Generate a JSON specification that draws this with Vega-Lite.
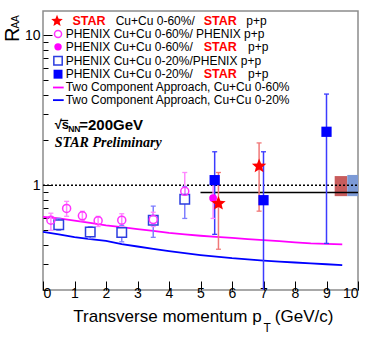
{
 "$schema": "https://vega.github.io/schema/vega-lite/v6.json",
 "width": 315, "height": 279,
 "autosize": {"type": "none"},
 "padding": {"left": 43, "top": 11, "right": 10, "bottom": 47},
 "config": {
  "view": {"stroke": "#8c8c8c", "strokeWidth": 1.5},
  "axis": {"grid": false, "domain": false, "labelFont": "Liberation Sans", "labelFontSize": 14, "labelColor": "black", "tickColor": "black", "tickWidth": 1, "labelOverlap": false},
  "text": {"font": "Liberation Sans"}
 },
 "datasets": {
  "pts": [
   {"series": "PHX0020", "pT": 0.5, "raa": 0.545, "lo": 0.50, "hi": 0.60},
   {"series": "PHX0020", "pT": 1.5, "raa": 0.487, "lo": 0.441, "hi": 0.528},
   {"series": "PHX0020", "pT": 2.5, "raa": 0.484, "lo": 0.419, "hi": 0.54},
   {"series": "PHX0020", "pT": 3.5, "raa": 0.584, "lo": 0.449, "hi": 0.725},
   {"series": "PHX0020", "pT": 4.5, "raa": 0.806, "lo": 0.60, "hi": 0.98},
   {"series": "PHX0060", "pT": 0.25, "raa": 0.584, "lo": 0.50, "hi": 0.65},
   {"series": "PHX0060", "pT": 0.75, "raa": 0.70, "lo": 0.62, "hi": 0.78},
   {"series": "PHX0060", "pT": 1.25, "raa": 0.625, "lo": 0.58, "hi": 0.67},
   {"series": "PHX0060", "pT": 1.75, "raa": 0.58, "lo": 0.53, "hi": 0.62},
   {"series": "PHX0060", "pT": 2.5, "raa": 0.584, "lo": 0.53, "hi": 0.645},
   {"series": "PHX0060", "pT": 3.5, "raa": 0.59, "lo": 0.53, "hi": 0.66},
   {"series": "PHX0060", "pT": 4.5, "raa": 0.91, "lo": 0.78, "hi": 1.215},
   {"series": "PHX0060s", "pT": 5.4, "raa": 0.82, "lo": 0.6, "hi": 1.1},
   {"series": "PHX0020s", "pT": 5.45, "raa": 1.08, "lo": 0.47, "hi": 1.67},
   {"series": "PHX0020s", "pT": 7.0, "raa": 0.794, "lo": 0.1, "hi": 1.67},
   {"series": "PHX0020s", "pT": 9.0, "raa": 2.27, "lo": 0.409, "hi": 4.05},
   {"series": "STAR0060", "pT": 5.57, "raa": 0.755, "lo": 0.374, "hi": 1.215},
   {"series": "STAR0060", "pT": 6.86, "raa": 1.34, "lo": 0.671, "hi": 1.913}
  ],
  "theory": [
   {"curve": "c0060", "pT": 0, "raa": 0.615}, {"curve": "c0060", "pT": 0.5, "raa": 0.6}, {"curve": "c0060", "pT": 1, "raa": 0.58}, {"curve": "c0060", "pT": 1.5, "raa": 0.56}, {"curve": "c0060", "pT": 2, "raa": 0.54}, {"curve": "c0060", "pT": 2.5, "raa": 0.525}, {"curve": "c0060", "pT": 3, "raa": 0.51}, {"curve": "c0060", "pT": 3.5, "raa": 0.495}, {"curve": "c0060", "pT": 4, "raa": 0.48}, {"curve": "c0060", "pT": 4.5, "raa": 0.47}, {"curve": "c0060", "pT": 5, "raa": 0.46}, {"curve": "c0060", "pT": 5.5, "raa": 0.452}, {"curve": "c0060", "pT": 6, "raa": 0.445}, {"curve": "c0060", "pT": 6.5, "raa": 0.437}, {"curve": "c0060", "pT": 7, "raa": 0.43}, {"curve": "c0060", "pT": 7.5, "raa": 0.423}, {"curve": "c0060", "pT": 8, "raa": 0.416}, {"curve": "c0060", "pT": 8.5, "raa": 0.409}, {"curve": "c0060", "pT": 9, "raa": 0.406}, {"curve": "c0060", "pT": 9.5, "raa": 0.403},
   {"curve": "c0020", "pT": 0, "raa": 0.488}, {"curve": "c0020", "pT": 0.5, "raa": 0.47}, {"curve": "c0020", "pT": 1, "raa": 0.45}, {"curve": "c0020", "pT": 1.5, "raa": 0.437}, {"curve": "c0020", "pT": 2, "raa": 0.425}, {"curve": "c0020", "pT": 2.5, "raa": 0.405}, {"curve": "c0020", "pT": 3, "raa": 0.39}, {"curve": "c0020", "pT": 3.5, "raa": 0.376}, {"curve": "c0020", "pT": 4, "raa": 0.363}, {"curve": "c0020", "pT": 4.5, "raa": 0.352}, {"curve": "c0020", "pT": 5, "raa": 0.342}, {"curve": "c0020", "pT": 5.5, "raa": 0.334}, {"curve": "c0020", "pT": 6, "raa": 0.326}, {"curve": "c0020", "pT": 6.5, "raa": 0.32}, {"curve": "c0020", "pT": 7, "raa": 0.314}, {"curve": "c0020", "pT": 7.5, "raa": 0.309}, {"curve": "c0020", "pT": 8, "raa": 0.305}, {"curve": "c0020", "pT": 8.5, "raa": 0.301}, {"curve": "c0020", "pT": 9, "raa": 0.297}, {"curve": "c0020", "pT": 9.5, "raa": 0.293}
  ],
  "norm": [
   {"series": "STARnorm", "x1": 9.26, "x2": 9.66, "lo": 0.845, "hi": 1.15},
   {"series": "PHXnorm", "x1": 9.66, "x2": 10.0, "lo": 0.845, "hi": 1.17}
  ]
 },
 "layer": [
  {
   "data": {"name": "norm"},
   "mark": {"type": "rect", "opacity": 1},
   "encoding": {
    "x": {"field": "x1", "type": "quantitative", "title": null,
          "scale": {"domain": [0, 10], "nice": false, "zero": false},
          "axis": {"values": [0, 1, 2, 3, 4, 5, 6, 7, 8, 9, 10], "tickCount": 11, "labelOverlap": false, "tickSize": -9, "labelPadding": 5, "title": null}},
    "x2": {"field": "x2"},
    "y": {"field": "lo", "type": "quantitative", "title": null,
          "scale": {"type": "log", "domain": [0.2, 14.5], "nice": false},
          "axis": {"values": [0.2, 0.3, 0.4, 0.5, 0.6, 0.7, 0.8, 0.9, 1, 2, 3, 4, 5, 6, 7, 8, 9, 10],
                   "labelExpr": "datum.value == 1 ? '1' : (datum.value == 10 ? '10' : '')", "labelOverlap": false,
                   "tickSize": {"condition": {"test": "datum.value == 1 || datum.value == 10", "value": -9}, "value": -5},
                   "labelPadding": 12, "title": null}},
    "y2": {"field": "hi"},
    "color": {"field": "series", "type": "nominal", "legend": null,
              "scale": {"domain": ["STAR0060", "PHX0060", "PHX0060s", "PHX0020", "PHX0020s", "STARnorm", "PHXnorm"],
                        "range": ["#f07878", "#ff88ff", "#ff88ff", "#7f7fff", "#3b3bff", "#c85c5c", "#7c9ad6"]}}
   }
  },
  {
   "data": {"values": [{}]},
   "mark": {"type": "rule", "strokeDash": [2, 2], "strokeWidth": 1.5, "color": "black"},
   "encoding": {"x": {"datum": 0, "type": "quantitative"}, "x2": {"datum": 10}, "y": {"datum": 1, "type": "quantitative"}}
  },
  {
   "data": {"values": [{}]},
   "mark": {"type": "rule", "strokeWidth": 1.5, "color": "black"},
   "encoding": {"x": {"datum": 5, "type": "quantitative"}, "x2": {"datum": 10}, "y": {"datum": 0.894, "type": "quantitative"}}
  },
  {
   "data": {"name": "theory"},
   "transform": [{"filter": "datum.curve == 'c0060'"}],
   "mark": {"type": "line", "color": "#ff00ff", "strokeWidth": 1.8},
   "encoding": {"x": {"field": "pT", "type": "quantitative", "title": null}, "y": {"field": "raa", "type": "quantitative", "title": null}}
  },
  {
   "data": {"name": "theory"},
   "transform": [{"filter": "datum.curve == 'c0020'"}],
   "mark": {"type": "line", "color": "#0000ff", "strokeWidth": 1.8},
   "encoding": {"x": {"field": "pT", "type": "quantitative", "title": null}, "y": {"field": "raa", "type": "quantitative", "title": null}}
  },
  {
   "data": {"name": "pts"},
   "mark": {"type": "rule", "strokeWidth": 1.5, "clip": true},
   "encoding": {"x": {"field": "pT", "type": "quantitative", "title": null}, "y": {"field": "lo", "type": "quantitative", "title": null}, "y2": {"field": "hi"},
                "color": {"field": "series", "type": "nominal", "legend": null}}
  },
  {
   "data": {"name": "pts"},
   "mark": {"type": "tick", "orient": "horizontal", "size": 5, "thickness": 1.3, "clip": true, "opacity": 1},
   "encoding": {"x": {"field": "pT", "type": "quantitative", "title": null}, "y": {"field": "lo", "type": "quantitative", "title": null},
                "color": {"field": "series", "type": "nominal", "legend": null}}
  },
  {
   "data": {"name": "pts"},
   "mark": {"type": "tick", "orient": "horizontal", "size": 5, "thickness": 1.3, "clip": true, "opacity": 1},
   "encoding": {"x": {"field": "pT", "type": "quantitative", "title": null}, "y": {"field": "hi", "type": "quantitative", "title": null},
                "color": {"field": "series", "type": "nominal", "legend": null}}
  },
  {
   "data": {"name": "pts"},
   "transform": [{"filter": "datum.series == 'PHX0020'"}],
   "mark": {"type": "square", "fill": "white", "stroke": "#2b3de0", "strokeWidth": 1.5, "size": 90, "opacity": 1},
   "encoding": {"x": {"field": "pT", "type": "quantitative", "title": null}, "y": {"field": "raa", "type": "quantitative", "title": null}}
  },
  {
   "data": {"name": "pts"},
   "transform": [{"filter": "datum.series == 'PHX0060'"}],
   "mark": {"type": "point", "shape": "circle", "filled": false, "color": "#ff33ff", "strokeWidth": 1.5, "size": 64, "opacity": 1},
   "encoding": {"x": {"field": "pT", "type": "quantitative", "title": null}, "y": {"field": "raa", "type": "quantitative", "title": null}}
  },
  {
   "data": {"name": "pts"},
   "transform": [{"filter": "datum.series == 'PHX0060s'"}],
   "mark": {"type": "circle", "color": "#ff00ff", "size": 60, "opacity": 1},
   "encoding": {"x": {"field": "pT", "type": "quantitative", "title": null}, "y": {"field": "raa", "type": "quantitative", "title": null}}
  },
  {
   "data": {"name": "pts"},
   "transform": [{"filter": "datum.series == 'PHX0020s'"}],
   "mark": {"type": "square", "color": "#0000ff", "size": 105, "opacity": 1},
   "encoding": {"x": {"field": "pT", "type": "quantitative", "title": null}, "y": {"field": "raa", "type": "quantitative", "title": null}}
  },
  {
   "data": {"name": "pts"},
   "transform": [{"filter": "datum.series == 'STAR0060'"}],
   "mark": {"type": "point", "shape": "M0,-1L0.26,-0.36L0.951,-0.309L0.42,0.14L0.588,0.809L0,0.45L-0.588,0.809L-0.42,0.14L-0.951,-0.309L-0.26,-0.36Z", "filled": true, "color": "#ff0000", "size": 230, "opacity": 1},
   "encoding": {"x": {"field": "pT", "type": "quantitative", "title": null}, "y": {"field": "raa", "type": "quantitative", "title": null}}
  },
  {
   "data": {"values": [{}]},
   "mark": {"type": "point", "shape": "M0,-1L0.26,-0.36L0.951,-0.309L0.42,0.14L0.588,0.809L0,0.45L-0.588,0.809L-0.42,0.14L-0.951,-0.309L-0.26,-0.36Z", "filled": true, "color": "#ff0000", "size": 150, "opacity": 1},
   "encoding": {"x": {"datum": 0.445, "type": "quantitative"}, "y": {"datum": 12.45, "type": "quantitative"}}
  },
  {
   "data": {"values": [{}]},
   "mark": {"type": "text", "text": "STAR", "align": "left", "baseline": "middle", "fontWeight": "bold", "fontSize": 12.5, "color": "#ff0000"},
   "encoding": {"x": {"datum": 0.933, "type": "quantitative"}, "y": {"datum": 12.45, "type": "quantitative"}}
  },
  {
   "data": {"values": [{}]},
   "mark": {"type": "text", "text": "Cu+Cu 0-60%/", "align": "left", "baseline": "middle", "fontSize": 12, "color": "black"},
   "encoding": {"x": {"datum": 2.308, "type": "quantitative"}, "y": {"datum": 12.45, "type": "quantitative"}}
  },
  {
   "data": {"values": [{}]},
   "mark": {"type": "text", "text": "STAR", "align": "left", "baseline": "middle", "fontWeight": "bold", "fontSize": 12.5, "color": "#ff0000"},
   "encoding": {"x": {"datum": 5.102, "type": "quantitative"}, "y": {"datum": 12.45, "type": "quantitative"}}
  },
  {
   "data": {"values": [{}]},
   "mark": {"type": "text", "text": "p+p", "align": "left", "baseline": "middle", "fontSize": 12, "color": "black"},
   "encoding": {"x": {"datum": 6.456, "type": "quantitative"}, "y": {"datum": 12.45, "type": "quantitative"}}
  },
  {
   "data": {"values": [{}]},
   "mark": {"type": "point", "shape": "circle", "filled": false, "color": "#ff33ff", "strokeWidth": 1.5, "size": 50, "opacity": 1},
   "encoding": {"x": {"datum": 0.477, "type": "quantitative"}, "y": {"datum": 10.2, "type": "quantitative"}}
  },
  {
   "data": {"values": [{}]},
   "mark": {"type": "text", "text": "PHENIX Cu+Cu 0-60%/ PHENIX p+p", "align": "left", "baseline": "middle", "fontSize": 12, "color": "black"},
   "encoding": {"x": {"datum": 0.72, "type": "quantitative"}, "y": {"datum": 10.2, "type": "quantitative"}}
  },
  {
   "data": {"values": [{}]},
   "mark": {"type": "circle", "color": "#ff00ff", "size": 55, "opacity": 1},
   "encoding": {"x": {"datum": 0.477, "type": "quantitative"}, "y": {"datum": 8.36, "type": "quantitative"}}
  },
  {
   "data": {"values": [{}]},
   "mark": {"type": "text", "text": "PHENIX Cu+Cu 0-60%/", "align": "left", "baseline": "middle", "fontSize": 12, "color": "black"},
   "encoding": {"x": {"datum": 0.72, "type": "quantitative"}, "y": {"datum": 8.36, "type": "quantitative"}}
  },
  {
   "data": {"values": [{}]},
   "mark": {"type": "text", "text": "STAR", "align": "left", "baseline": "middle", "fontWeight": "bold", "fontSize": 12.5, "color": "#ff0000"},
   "encoding": {"x": {"datum": 5.102, "type": "quantitative"}, "y": {"datum": 8.36, "type": "quantitative"}}
  },
  {
   "data": {"values": [{}]},
   "mark": {"type": "text", "text": "p+p", "align": "left", "baseline": "middle", "fontSize": 12, "color": "black"},
   "encoding": {"x": {"datum": 6.51, "type": "quantitative"}, "y": {"datum": 8.36, "type": "quantitative"}}
  },
  {
   "data": {"values": [{}]},
   "mark": {"type": "square", "fill": "white", "stroke": "#2b3de0", "strokeWidth": 1.5, "size": 70, "opacity": 1},
   "encoding": {"x": {"datum": 0.477, "type": "quantitative"}, "y": {"datum": 6.76, "type": "quantitative"}}
  },
  {
   "data": {"values": [{}]},
   "mark": {"type": "text", "text": "PHENIX Cu+Cu 0-20%/PHENIX p+p", "align": "left", "baseline": "middle", "fontSize": 12, "color": "black"},
   "encoding": {"x": {"datum": 0.72, "type": "quantitative"}, "y": {"datum": 6.76, "type": "quantitative"}}
  },
  {
   "data": {"values": [{}]},
   "mark": {"type": "square", "color": "#0000ff", "size": 80, "opacity": 1},
   "encoding": {"x": {"datum": 0.477, "type": "quantitative"}, "y": {"datum": 5.495, "type": "quantitative"}}
  },
  {
   "data": {"values": [{}]},
   "mark": {"type": "text", "text": "PHENIX Cu+Cu 0-20%/", "align": "left", "baseline": "middle", "fontSize": 12, "color": "black"},
   "encoding": {"x": {"datum": 0.72, "type": "quantitative"}, "y": {"datum": 5.495, "type": "quantitative"}}
  },
  {
   "data": {"values": [{}]},
   "mark": {"type": "text", "text": "STAR", "align": "left", "baseline": "middle", "fontWeight": "bold", "fontSize": 12.5, "color": "#ff0000"},
   "encoding": {"x": {"datum": 5.102, "type": "quantitative"}, "y": {"datum": 5.495, "type": "quantitative"}}
  },
  {
   "data": {"values": [{}]},
   "mark": {"type": "text", "text": "p+p", "align": "left", "baseline": "middle", "fontSize": 12, "color": "black"},
   "encoding": {"x": {"datum": 6.51, "type": "quantitative"}, "y": {"datum": 5.495, "type": "quantitative"}}
  },
  {
   "data": {"values": [{}]},
   "mark": {"type": "rule", "color": "#ff00ff", "strokeWidth": 1.8},
   "encoding": {"x": {"datum": 0.317, "type": "quantitative"}, "x2": {"datum": 0.657}, "y": {"datum": 4.48, "type": "quantitative"}}
  },
  {
   "data": {"values": [{}]},
   "mark": {"type": "text", "text": "Two Component Approach, Cu+Cu 0-60%", "align": "left", "baseline": "middle", "fontSize": 12, "color": "black"},
   "encoding": {"x": {"datum": 0.72, "type": "quantitative"}, "y": {"datum": 4.48, "type": "quantitative"}}
  },
  {
   "data": {"values": [{}]},
   "mark": {"type": "rule", "color": "#0000ff", "strokeWidth": 1.8},
   "encoding": {"x": {"datum": 0.317, "type": "quantitative"}, "x2": {"datum": 0.657}, "y": {"datum": 3.69, "type": "quantitative"}}
  },
  {
   "data": {"values": [{}]},
   "mark": {"type": "text", "text": "Two Component Approach, Cu+Cu 0-20%", "align": "left", "baseline": "middle", "fontSize": 12, "color": "black"},
   "encoding": {"x": {"datum": 0.72, "type": "quantitative"}, "y": {"datum": 3.69, "type": "quantitative"}}
  },
  {
   "data": {"values": [{}]},
   "mark": {"type": "text", "text": "√s", "align": "left", "baseline": "middle", "fontWeight": "bold", "fontSize": 13, "color": "black"},
   "encoding": {"x": {"datum": 0.37, "type": "quantitative"}, "y": {"datum": 2.52, "type": "quantitative"}}
  },
  {
   "data": {"values": [{}]},
   "mark": {"type": "text", "text": "NN", "align": "left", "baseline": "middle", "fontWeight": "bold", "fontSize": 8.5, "color": "black"},
   "encoding": {"x": {"datum": 0.8, "type": "quantitative"}, "y": {"datum": 2.36, "type": "quantitative"}}
  },
  {
   "data": {"values": [{}]},
   "mark": {"type": "text", "text": "=200GeV", "align": "left", "baseline": "middle", "fontWeight": "bold", "fontSize": 15, "color": "black"},
   "encoding": {"x": {"datum": 1.15, "type": "quantitative"}, "y": {"datum": 2.52, "type": "quantitative"}}
  },
  {
   "data": {"values": [{}]},
   "mark": {"type": "rule", "color": "black", "strokeWidth": 1.2},
   "encoding": {"x": {"datum": 0.55, "type": "quantitative"}, "x2": {"datum": 0.8}, "y": {"datum": 2.7, "type": "quantitative"}}
  },
  {
   "data": {"values": [{}]},
   "mark": {"type": "text", "text": "STAR Preliminary", "align": "left", "baseline": "middle", "font": "Liberation Serif", "fontWeight": "bold", "fontStyle": "italic", "fontSize": 14, "color": "black"},
   "encoding": {"x": {"datum": 0.37, "type": "quantitative"}, "y": {"datum": 1.897, "type": "quantitative"}}
  },
  {
   "data": {"values": [{}]},
   "mark": {"type": "text", "text": "R", "align": "center", "baseline": "middle", "angle": 270, "fontSize": 20, "color": "black"},
   "encoding": {"x": {"datum": -0.952, "type": "quantitative"}, "y": {"datum": 10.08, "type": "quantitative"}}
  },
  {
   "data": {"values": [{}]},
   "mark": {"type": "text", "text": "AA", "align": "center", "baseline": "middle", "angle": 270, "fontSize": 10, "color": "black"},
   "encoding": {"x": {"datum": -0.857, "type": "quantitative"}, "y": {"datum": 12.27, "type": "quantitative"}}
  },
  {
   "data": {"values": [{}]},
   "mark": {"type": "text", "text": "Transverse momentum p", "align": "right", "baseline": "middle", "fontSize": 17, "color": "black"},
   "encoding": {"x": {"datum": 6.94, "type": "quantitative"}, "y": {"datum": 0.1318, "type": "quantitative"}}
  },
  {
   "data": {"values": [{}]},
   "mark": {"type": "text", "text": "T", "align": "center", "baseline": "middle", "fontSize": 12, "color": "black"},
   "encoding": {"x": {"datum": 7.12, "type": "quantitative"}, "y": {"datum": 0.111, "type": "quantitative"}}
  },
  {
   "data": {"values": [{}]},
   "mark": {"type": "text", "text": "(GeV/c)", "align": "left", "baseline": "middle", "fontSize": 17, "color": "black"},
   "encoding": {"x": {"datum": 7.36, "type": "quantitative"}, "y": {"datum": 0.1318, "type": "quantitative"}}
  }
 ]
}
